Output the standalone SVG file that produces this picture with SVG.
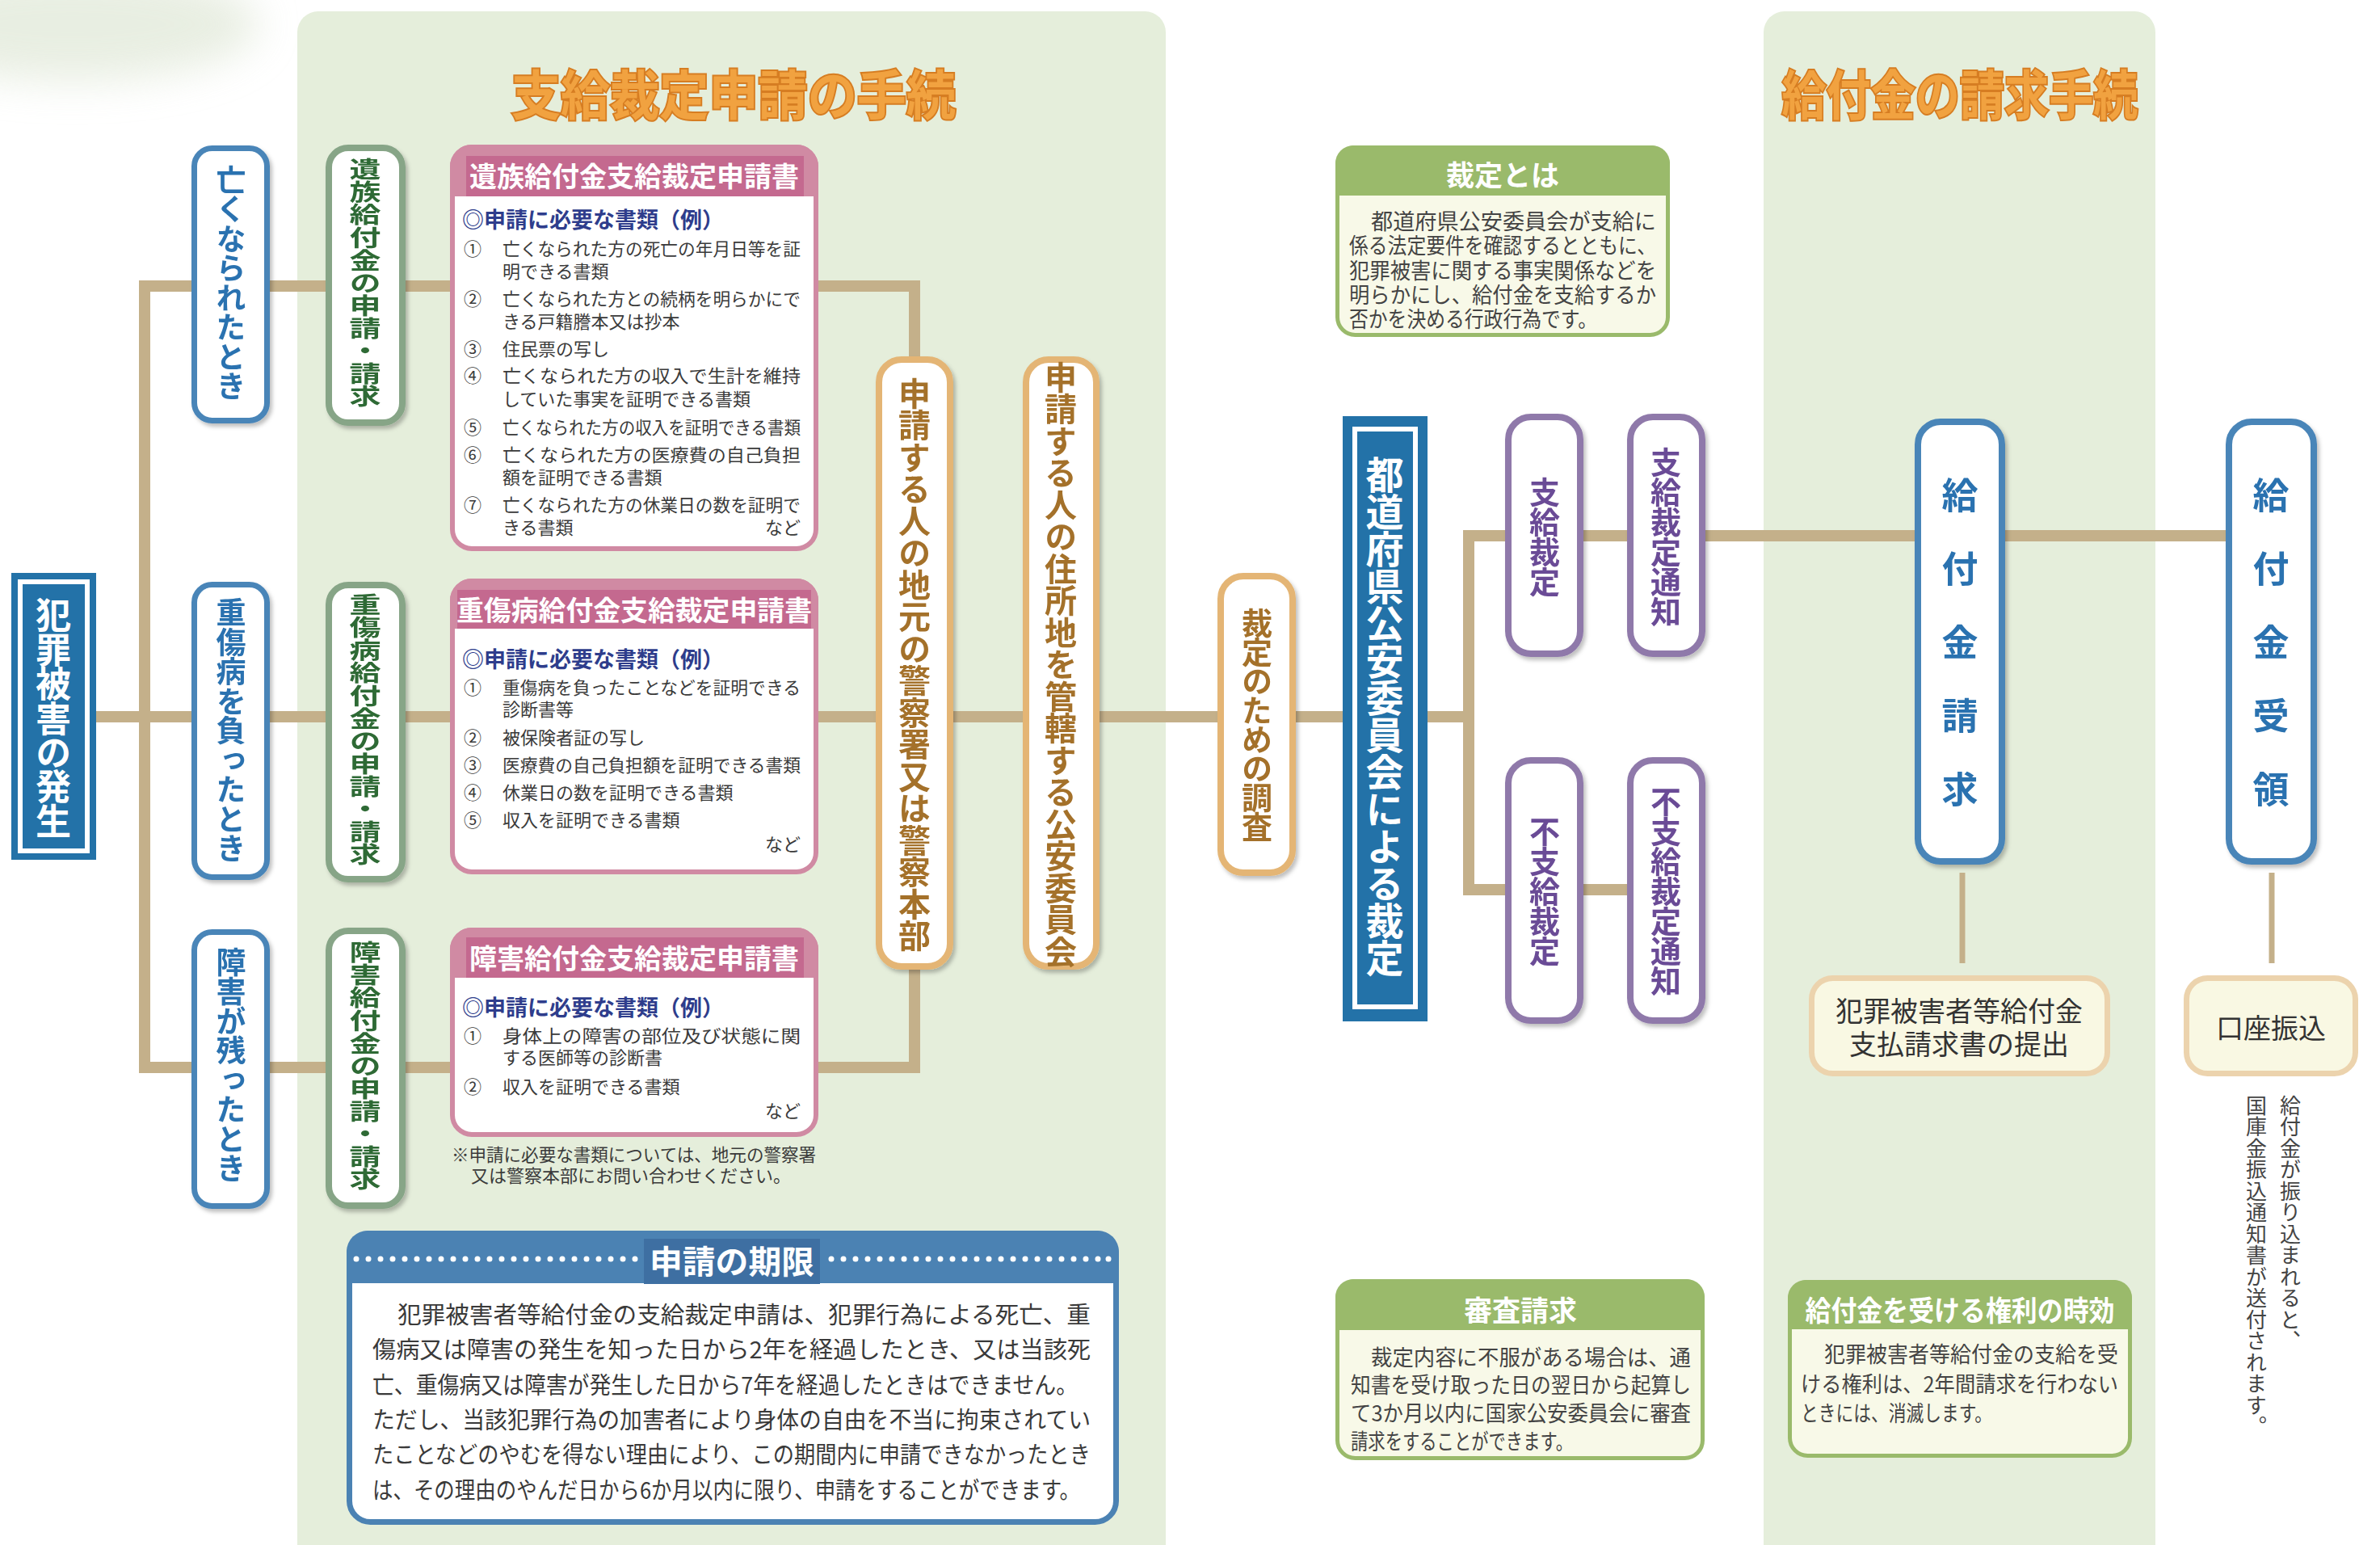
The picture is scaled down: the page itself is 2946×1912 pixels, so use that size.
<svg xmlns="http://www.w3.org/2000/svg" width="2946" height="1912" viewBox="0 0 2946 1912">
<style>
text{font-family:"Noto Sans CJK JP","Noto Sans",sans-serif;}
.vt{writing-mode:vertical-rl;text-anchor:middle;font-weight:700;}
.ln{fill:none;stroke:#c4b08a;stroke-width:14;stroke-linejoin:miter;}
.ln2{fill:none;stroke:#c4b08a;stroke-width:7;}
.bb{fill:#fff;stroke:#4a85b8;stroke-width:7;}
.gb{fill:#fff;stroke:#87a587;stroke-width:8;}
.ob{fill:#fff;stroke:#e4b574;stroke-width:8;}
.pb{fill:#fff;stroke:#8f79aa;stroke-width:8;}
.rb{fill:#fff;stroke:#4a85b8;stroke-width:8;}
.pk{fill:#fff;stroke:#d08aa3;stroke-width:6;}
.pkh{fill:#d08aa3;}
.pkt{fill:#c4698f;}
.cr{fill:#f9f8e3;stroke:#ecd3ad;stroke-width:7;}
.nb{fill:#f8f9e8;stroke:#9aba6b;stroke-width:5;}
.nbh{fill:#9aba6b;}
.ttl{font-size:66px;font-weight:700;fill:#f1a240;stroke:#d67d22;stroke-width:4;paint-order:stroke;text-anchor:middle;dominant-baseline:central;}
.pkttl{font-size:34px;font-weight:700;fill:#fff;text-anchor:middle;dominant-baseline:central;}
.sub{font-size:27px;font-weight:700;fill:#2e3d8c;dominant-baseline:central;}
.it{font-size:22px;fill:#3a3a3a;dominant-baseline:central;}
.hd{font-size:35px;font-weight:700;fill:#fff;text-anchor:middle;dominant-baseline:central;}
.bd{font-size:27px;fill:#444;dominant-baseline:central;}
.dl{font-size:29px;fill:#3a3a3a;dominant-baseline:central;}
</style>
<defs>
<filter id="sh" x="-20%" y="-10%" width="140%" height="120%">
<feDropShadow dx="3" dy="4" stdDeviation="2.5" flood-color="#000" flood-opacity="0.25"/>
</filter>
<filter id="blur" x="-50%" y="-50%" width="200%" height="200%"><feGaussianBlur stdDeviation="25"/></filter>
</defs>
<rect x="0" y="0" width="2946" height="1912" fill="#fff"/>
<ellipse cx="90" cy="30" rx="230" ry="70" fill="#dfe7d6" opacity="0.7" filter="url(#blur)"/>
<path d="M368,1912 V40 a26,26 0 0 1 26,-26 H1417 a26,26 0 0 1 26,26 V1912 Z" fill="#e5eedb"/>
<path d="M2183,1912 V40 a26,26 0 0 1 26,-26 H2642 a26,26 0 0 1 26,26 V1912 Z" fill="#e5eedb"/>

<text class="ttl" x="908" y="113" textLength="550" lengthAdjust="spacingAndGlyphs">支給裁定申請の手続</text>
<text class="ttl" x="2426" y="113" textLength="441" lengthAdjust="spacingAndGlyphs">給付金の請求手続</text>

<g id="connectors">
<path class="ln" d="M119,887 H1662"/>
<path class="ln" d="M1132,441 V354 H179 V1321 H1132 V1200"/>
<path class="ln" d="M1767,887 H1818"/>
<path class="ln" d="M1863,663 H1818 V1101 H1863"/>
<path class="ln" d="M1960,663 H2755"/>
<path class="ln" d="M1960,1101 H2014"/>
<path class="ln2" d="M2429,1080 V1192"/>
<path class="ln2" d="M2812,1080 V1192"/>
</g>

<g id="n-hanzai">
<rect x="14" y="709" width="105" height="355" fill="#2372a8"/>
<rect x="25" y="720" width="83" height="333" fill="none" stroke="#fff" stroke-width="6"/>
<text class="vt" x="66" y="888" font-size="44" letter-spacing="-1.6" fill="#fff">犯罪被害の発生</text>
</g>

<g id="n-nakunatta" filter="url(#sh)">
<rect class="bb" x="240.5" y="183.5" width="90" height="337" rx="22"/>
<text class="vt" x="286" y="350" font-size="37" letter-spacing="-0.5" fill="#2a72b0">亡くなられたとき</text>
</g>
<g id="n-jushobyo" filter="url(#sh)">
<rect class="bb" x="240.5" y="723.5" width="90" height="362" rx="22"/>
<text class="vt" x="286" y="904" font-size="37" letter-spacing="-0.5" fill="#2a72b0">重傷病を負ったとき</text>
</g>
<g id="n-shogai" filter="url(#sh)">
<rect class="bb" x="240.5" y="1153.5" width="90" height="339" rx="22"/>
<text class="vt" x="286" y="1318" font-size="37" letter-spacing="-0.5" fill="#2a72b0">障害が残ったとき</text>
</g>

<g id="n-izoku-req" filter="url(#sh)">
<rect class="gb" x="407" y="183" width="91" height="340" rx="24"/>
<text class="vt" transform="translate(452,350) scale(1,0.72)" x="0" y="0" font-size="39" fill="#2f6b35">遺族給付金の申請・請求</text>
</g>
<g id="n-jusho-req" filter="url(#sh)">
<rect class="gb" x="407" y="724" width="91" height="364" rx="24"/>
<text class="vt" transform="translate(452,903) scale(1,0.72)" x="0" y="0" font-size="39" fill="#2f6b35">重傷病給付金の申請・請求</text>
</g>
<g id="n-shogai-req" filter="url(#sh)">
<rect class="gb" x="407" y="1152" width="91" height="340" rx="24"/>
<text class="vt" transform="translate(452,1319) scale(1,0.72)" x="0" y="0" font-size="39" fill="#2f6b35">障害給付金の申請・請求</text>
</g>

<g id="n-doc-izoku">
<rect class="pk" x="560" y="182" width="450" height="497" rx="24"/>
<path class="pkh" d="M557,243 V206 a27,27 0 0 1 27,-27 H986 a27,27 0 0 1 27,27 V243 Z"/>
<rect class="pkt" x="577" y="193" width="418" height="50"/>
<text class="pkttl" x="785" y="216" textLength="408" lengthAdjust="spacingAndGlyphs">遺族給付金支給裁定申請書</text>
<text class="sub" x="572" y="270">◎申請に必要な書類（例）</text>
<text class="it" x="574" y="306">①</text>
<text class="it" x="622" y="306" textLength="369" lengthAdjust="spacingAndGlyphs">亡くなられた方の死亡の年月日等を証</text>
<text class="it" x="622" y="334">明できる書類</text>
<text class="it" x="574" y="368">②</text>
<text class="it" x="622" y="368" textLength="369" lengthAdjust="spacingAndGlyphs">亡くなられた方との続柄を明らかにで</text>
<text class="it" x="622" y="396">きる戸籍謄本又は抄本</text>
<text class="it" x="574" y="430">③</text>
<text class="it" x="622" y="430">住民票の写し</text>
<text class="it" x="574" y="463">④</text>
<text class="it" x="622" y="463" textLength="369" lengthAdjust="spacingAndGlyphs">亡くなられた方の収入で生計を維持</text>
<text class="it" x="622" y="492">していた事実を証明できる書類</text>
<text class="it" x="574" y="527">⑤</text>
<text class="it" x="622" y="527" textLength="369" lengthAdjust="spacingAndGlyphs">亡くなられた方の収入を証明できる書類</text>
<text class="it" x="574" y="561">⑥</text>
<text class="it" x="622" y="561" textLength="369" lengthAdjust="spacingAndGlyphs">亡くなられた方の医療費の自己負担</text>
<text class="it" x="622" y="589">額を証明できる書類</text>
<text class="it" x="574" y="623">⑦</text>
<text class="it" x="622" y="623" textLength="369" lengthAdjust="spacingAndGlyphs">亡くなられた方の休業日の数を証明で</text>
<text class="it" x="622" y="651">きる書類</text>
<text class="it" x="991" y="651" text-anchor="end">など</text>
</g>

<g id="n-doc-jusho">
<rect class="pk" x="560" y="719" width="450" height="360" rx="24"/>
<path class="pkh" d="M557,778 V743 a27,27 0 0 1 27,-27 H986 a27,27 0 0 1 27,27 V778 Z"/>
<rect class="pkt" x="566" y="730" width="438" height="48"/>
<text class="pkttl" x="785" y="753" textLength="440" lengthAdjust="spacingAndGlyphs">重傷病給付金支給裁定申請書</text>
<text class="sub" x="572" y="814">◎申請に必要な書類（例）</text>
<text class="it" x="574" y="849">①</text>
<text class="it" x="622" y="849" textLength="369" lengthAdjust="spacingAndGlyphs">重傷病を負ったことなどを証明できる</text>
<text class="it" x="622" y="876">診断書等</text>
<text class="it" x="574" y="911">②</text>
<text class="it" x="622" y="911">被保険者証の写し</text>
<text class="it" x="574" y="945">③</text>
<text class="it" x="622" y="945" textLength="369" lengthAdjust="spacingAndGlyphs">医療費の自己負担額を証明できる書類</text>
<text class="it" x="574" y="979">④</text>
<text class="it" x="622" y="979">休業日の数を証明できる書類</text>
<text class="it" x="574" y="1013">⑤</text>
<text class="it" x="622" y="1013">収入を証明できる書類</text>
<text class="it" x="991" y="1043" text-anchor="end">など</text>
</g>

<g id="n-doc-shogai">
<rect class="pk" x="560" y="1151" width="450" height="253" rx="24"/>
<path class="pkh" d="M557,1210 V1175 a27,27 0 0 1 27,-27 H986 a27,27 0 0 1 27,27 V1210 Z"/>
<rect class="pkt" x="577" y="1160" width="418" height="50"/>
<text class="pkttl" x="785" y="1184" textLength="408" lengthAdjust="spacingAndGlyphs">障害給付金支給裁定申請書</text>
<text class="sub" x="572" y="1245">◎申請に必要な書類（例）</text>
<text class="it" x="574" y="1280">①</text>
<text class="it" x="622" y="1280" textLength="369" lengthAdjust="spacingAndGlyphs">身体上の障害の部位及び状態に関</text>
<text class="it" x="622" y="1307">する医師等の診断書</text>
<text class="it" x="574" y="1343">②</text>
<text class="it" x="622" y="1343">収入を証明できる書類</text>
<text class="it" x="991" y="1373" text-anchor="end">など</text>
</g>
<g id="note-docs">
<text class="it" x="559" y="1427" font-size="21" textLength="451" lengthAdjust="spacingAndGlyphs">※申請に必要な書類については、地元の警察署</text>
<text class="it" x="583" y="1453" font-size="21">又は警察本部にお問い合わせください。</text>
</g>

<g id="n-police" filter="url(#sh)">
<rect class="ob" x="1088" y="445" width="88" height="751" rx="28"/>
<text class="vt" x="1132" y="822" font-size="40" letter-spacing="-0.5" fill="#a4712b">申請する人の地元の警察署又は警察本部</text>
</g>
<g id="n-commission" filter="url(#sh)">
<rect class="ob" x="1270" y="445" width="87" height="751" rx="28"/>
<text class="vt" x="1313" y="822" font-size="40" letter-spacing="-0.5" fill="#a4712b">申請する人の住所地を管轄する公安委員会</text>
</g>
<g id="n-survey" filter="url(#sh)">
<rect class="ob" x="1511" y="713" width="89" height="367" rx="28"/>
<text class="vt" x="1556" y="896" font-size="38" letter-spacing="-2" fill="#a4712b">裁定のための調査</text>
</g>

<g id="n-decision">
<rect x="1662" y="515" width="105" height="749" fill="#2372a8"/>
<rect x="1677" y="531" width="75" height="715" fill="none" stroke="#fff" stroke-width="6"/>
<text class="vt" x="1714" y="886" font-size="47" letter-spacing="-1" fill="#fff">都道府県公安委員会による裁定</text>
</g>

<g id="n-shikyu" filter="url(#sh)">
<rect class="pb" x="1867" y="516" width="89" height="293" rx="28"/>
<text class="vt" x="1912" y="664" font-size="38" letter-spacing="-1" fill="#6a4b96">支給裁定</text>
</g>
<g id="n-shikyu-notice" filter="url(#sh)">
<rect class="pb" x="2018" y="516" width="89" height="293" rx="28"/>
<text class="vt" x="2062" y="664" font-size="38" letter-spacing="-1" fill="#6a4b96">支給裁定通知</text>
</g>
<g id="n-fushikyu" filter="url(#sh)">
<rect class="pb" x="1867" y="941" width="89" height="322" rx="28"/>
<text class="vt" x="1912" y="1102" font-size="38" letter-spacing="-1" fill="#6a4b96">不支給裁定</text>
</g>
<g id="n-fushikyu-notice" filter="url(#sh)">
<rect class="pb" x="2018" y="941" width="89" height="322" rx="28"/>
<text class="vt" x="2062" y="1102" font-size="38" letter-spacing="-1" fill="#6a4b96">不支給裁定通知</text>
</g>

<g id="n-claim" filter="url(#sh)">
<rect class="rb" x="2374" y="522" width="104" height="544" rx="28"/>
<text class="vt" x="2426" y="590" style="text-anchor:start" font-size="45" letter-spacing="46" fill="#2a72b0">給付金請求</text>
</g>
<g id="n-receive" filter="url(#sh)">
<rect class="rb" x="2759" y="522" width="105" height="544" rx="28"/>
<text class="vt" x="2811" y="590" style="text-anchor:start" font-size="45" letter-spacing="46" fill="#2a72b0">給付金受領</text>
</g>

<g id="n-submit">
<rect class="cr" x="2242.5" y="1210.5" width="366" height="118" rx="26"/>
<text x="2425" y="1249" font-size="34" fill="#333" text-anchor="middle" dominant-baseline="central">犯罪被害者等給付金</text>
<text x="2425" y="1290" font-size="34" fill="#333" text-anchor="middle" dominant-baseline="central">支払請求書の提出</text>
</g>
<g id="n-transfer">
<rect class="cr" x="2706.5" y="1210.5" width="209" height="118" rx="26"/>
<text x="2811" y="1270" font-size="34" fill="#333" text-anchor="middle" dominant-baseline="central">口座振込</text>
</g>
<g id="note-transfer">
<text x="2835" y="1355" style="writing-mode:vertical-rl;text-anchor:start" font-size="26" letter-spacing="0.5" fill="#444">給付金が振り込まれると、</text>
<text x="2793" y="1355" style="writing-mode:vertical-rl;text-anchor:start" font-size="26" letter-spacing="0.5" fill="#444">国庫金振込通知書が送付されます。</text>
</g>

<g id="n-kigen">
<rect x="432.5" y="1526.5" width="949" height="357" rx="26" fill="#fff" stroke="#4b82b3" stroke-width="7"/>
<path d="M429,1588 V1549 a26,26 0 0 1 26,-26 H1359 a26,26 0 0 1 26,26 V1588 Z" fill="#4b82b3"/>
<rect x="797" y="1533" width="218" height="56" fill="#3e6fa2"/>
<text x="906" y="1559" font-size="40" font-weight="700" fill="#fff" text-anchor="middle" dominant-baseline="central" textLength="204" lengthAdjust="spacingAndGlyphs">申請の期限</text>
<g fill="#fff">
<circle cx="441" cy="1558" r="3.5"/><circle cx="456" cy="1558" r="3.5"/><circle cx="471" cy="1558" r="3.5"/><circle cx="486" cy="1558" r="3.5"/><circle cx="501" cy="1558" r="3.5"/><circle cx="516" cy="1558" r="3.5"/><circle cx="531" cy="1558" r="3.5"/><circle cx="546" cy="1558" r="3.5"/><circle cx="561" cy="1558" r="3.5"/><circle cx="576" cy="1558" r="3.5"/><circle cx="591" cy="1558" r="3.5"/><circle cx="606" cy="1558" r="3.5"/><circle cx="621" cy="1558" r="3.5"/><circle cx="636" cy="1558" r="3.5"/><circle cx="651" cy="1558" r="3.5"/><circle cx="666" cy="1558" r="3.5"/><circle cx="681" cy="1558" r="3.5"/><circle cx="696" cy="1558" r="3.5"/><circle cx="711" cy="1558" r="3.5"/><circle cx="726" cy="1558" r="3.5"/><circle cx="741" cy="1558" r="3.5"/><circle cx="756" cy="1558" r="3.5"/><circle cx="771" cy="1558" r="3.5"/><circle cx="786" cy="1558" r="3.5"/>
<circle cx="1029" cy="1558" r="3.5"/><circle cx="1044" cy="1558" r="3.5"/><circle cx="1059" cy="1558" r="3.5"/><circle cx="1074" cy="1558" r="3.5"/><circle cx="1089" cy="1558" r="3.5"/><circle cx="1104" cy="1558" r="3.5"/><circle cx="1119" cy="1558" r="3.5"/><circle cx="1134" cy="1558" r="3.5"/><circle cx="1149" cy="1558" r="3.5"/><circle cx="1164" cy="1558" r="3.5"/><circle cx="1179" cy="1558" r="3.5"/><circle cx="1194" cy="1558" r="3.5"/><circle cx="1209" cy="1558" r="3.5"/><circle cx="1224" cy="1558" r="3.5"/><circle cx="1239" cy="1558" r="3.5"/><circle cx="1254" cy="1558" r="3.5"/><circle cx="1269" cy="1558" r="3.5"/><circle cx="1284" cy="1558" r="3.5"/><circle cx="1299" cy="1558" r="3.5"/><circle cx="1314" cy="1558" r="3.5"/><circle cx="1329" cy="1558" r="3.5"/><circle cx="1344" cy="1558" r="3.5"/><circle cx="1359" cy="1558" r="3.5"/><circle cx="1372" cy="1558" r="3.5"/>
</g>
<text class="dl" x="492" y="1625" textLength="858" lengthAdjust="spacingAndGlyphs">犯罪被害者等給付金の支給裁定申請は、犯罪行為による死亡、重</text>
<text class="dl" x="461" y="1668" textLength="889" lengthAdjust="spacingAndGlyphs">傷病又は障害の発生を知った日から2年を経過したとき、又は当該死</text>
<text class="dl" x="461" y="1712" textLength="873" lengthAdjust="spacingAndGlyphs">亡、重傷病又は障害が発生した日から7年を経過したときはできません。</text>
<text class="dl" x="461" y="1755" textLength="889" lengthAdjust="spacingAndGlyphs">ただし、当該犯罪行為の加害者により身体の自由を不当に拘束されてい</text>
<text class="dl" x="461" y="1798" textLength="889" lengthAdjust="spacingAndGlyphs">たことなどのやむを得ない理由により、この期間内に申請できなかったとき</text>
<text class="dl" x="461" y="1842" textLength="876" lengthAdjust="spacingAndGlyphs">は、その理由のやんだ日から6か月以内に限り、申請をすることができます。</text>
</g>

<g id="n-saitei-towa">
<rect class="nb" x="1655.5" y="182.5" width="409" height="232" rx="22"/>
<path class="nbh" d="M1653,242 V202 a22,22 0 0 1 22,-22 H2045 a22,22 0 0 1 22,22 V242 Z"/>
<text class="hd" x="1860" y="214">裁定とは</text>
<text class="bd" x="1697" y="272" textLength="353" lengthAdjust="spacingAndGlyphs">都道府県公安委員会が支給に</text>
<text class="bd" x="1670" y="302" textLength="380" lengthAdjust="spacingAndGlyphs">係る法定要件を確認するとともに、</text>
<text class="bd" x="1670" y="333" textLength="380" lengthAdjust="spacingAndGlyphs">犯罪被害に関する事実関係などを</text>
<text class="bd" x="1670" y="363" textLength="380" lengthAdjust="spacingAndGlyphs">明らかにし、給付金を支給するか</text>
<text class="bd" x="1670" y="393" textLength="307" lengthAdjust="spacingAndGlyphs">否かを決める行政行為です。</text>
</g>

<g id="n-shinsa">
<rect class="nb" x="1655.5" y="1585.5" width="452" height="219" rx="22"/>
<path class="nbh" d="M1653,1646 V1605 a22,22 0 0 1 22,-22 H2088 a22,22 0 0 1 22,22 V1646 Z"/>
<text class="hd" x="1882" y="1619">審査請求</text>
<text class="bd" x="1697" y="1678" font-size="28" textLength="396" lengthAdjust="spacingAndGlyphs">裁定内容に不服がある場合は、通</text>
<text class="bd" x="1672" y="1712" font-size="28" textLength="421" lengthAdjust="spacingAndGlyphs">知書を受け取った日の翌日から起算し</text>
<text class="bd" x="1672" y="1747" font-size="28" textLength="421" lengthAdjust="spacingAndGlyphs">て3か月以内に国家公安委員会に審査</text>
<text class="bd" x="1672" y="1782" font-size="28" textLength="275" lengthAdjust="spacingAndGlyphs">請求をすることができます。</text>
</g>

<g id="n-jiko">
<rect class="nb" x="2215.5" y="1586.5" width="421" height="215" rx="22"/>
<path class="nbh" d="M2213,1645 V1606 a22,22 0 0 1 22,-22 H2617 a22,22 0 0 1 22,22 V1645 Z"/>
<text class="hd" x="2426" y="1619" font-size="34" textLength="383" lengthAdjust="spacingAndGlyphs">給付金を受ける権利の時効</text>
<text class="bd" x="2258" y="1674" textLength="364" lengthAdjust="spacingAndGlyphs">犯罪被害者等給付金の支給を受</text>
<text class="bd" x="2229" y="1711" textLength="393" lengthAdjust="spacingAndGlyphs">ける権利は、2年間請求を行わない</text>
<text class="bd" x="2229" y="1747" textLength="237" lengthAdjust="spacingAndGlyphs">ときには、消滅します。</text>
</g>
</svg>
